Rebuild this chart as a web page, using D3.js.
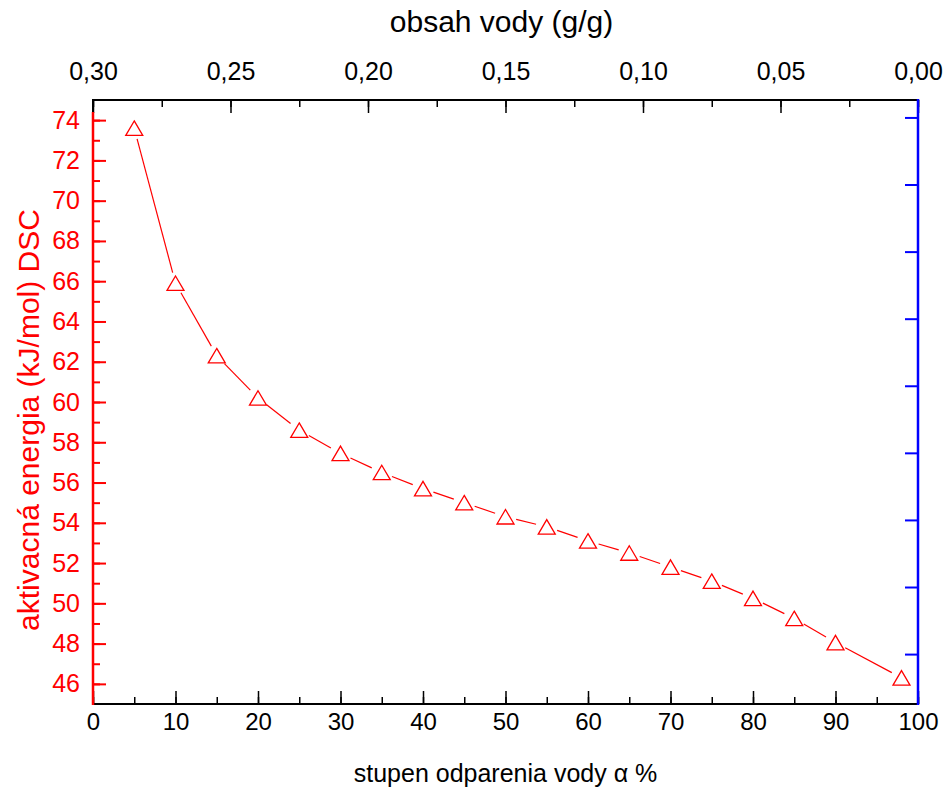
<!DOCTYPE html>
<html>
<head>
<meta charset="utf-8">
<script src="https://cdn.jsdelivr.net/npm/d3@7"></script>
<style>
  body { margin: 0; background: #fff; }
  svg { display: block; font-family: "Liberation Sans", Arial, sans-serif; }
</style>
</head>
<body>
<svg id="chart" width="946" height="798"></svg>
<script>
// data
const alpha = [5, 10, 15, 20, 25, 30, 35, 40, 45, 50, 55, 60, 65, 70, 75, 80, 85, 90, 98];
const energy = [73.6, 65.9, 62.3, 60.2, 58.6, 57.45, 56.5, 55.7, 55.0, 54.3, 53.8, 53.1, 52.5, 51.8, 51.1, 50.25, 49.25, 48.05, 46.3];
const topTicks = [0.30, 0.25, 0.20, 0.15, 0.10, 0.05, 0.00];
const rightTicks = [1, 2, 3, 4, 5, 6, 7, 8, 9];

const L = 93, R = 918, T = 100, B = 704;
const svg = d3.select('#chart');

const x = d3.scaleLinear().domain([0, 100]).range([L, R]);
const xTop = d3.scaleLinear().domain([0.30, 0.00]).range([L, R]);
const y = d3.scaleLinear().domain([45, 75]).range([B, T]);
const yRight = d3.scaleLinear().domain([0.256, 9.26]).range([B, T]);

const fmtComma = d => d3.format('.2f')(d).replace('.', ',');

// ramik (cierny)
svg.append('rect')
  .attr('x', L).attr('y', T).attr('width', R - L).attr('height', B - T)
  .attr('fill', 'none').attr('stroke', '#000').attr('stroke-width', 2);

// spodna os
const gBot = svg.append('g').attr('transform', `translate(0,${B})`);
gBot.call(d3.axisBottom(x).tickValues(d3.range(0, 101, 5)).tickSize(-7).tickFormat(''));
gBot.call(g => g.select('.domain').remove());
gBot.append('g').call(d3.axisBottom(x).tickValues(d3.range(0, 101, 10)).tickSize(-13).tickPadding(9))
  .call(g => g.select('.domain').remove());
gBot.selectAll('line').attr('stroke', '#000').attr('stroke-width', 1.5);
gBot.selectAll('text').attr('font-size', 24).attr('fill', '#000');

// horna os
const gTop = svg.append('g').attr('transform', `translate(0,${T})`);
gTop.call(d3.axisTop(xTop).tickValues(d3.range(0, 13).map(i => 0.30 - i * 0.025)).tickSize(-7).tickFormat(''));
gTop.call(g => g.select('.domain').remove());
gTop.append('g').call(d3.axisTop(xTop).tickValues(topTicks).tickSize(-13).tickPadding(20).tickFormat(fmtComma))
  .call(g => g.select('.domain').remove());
gTop.selectAll('line').attr('stroke', '#000').attr('stroke-width', 1.5);
gTop.selectAll('text').attr('font-size', 25).attr('fill', '#000');

// lava os (cervena)
const gLeft = svg.append('g').attr('transform', `translate(${L},0)`);
gLeft.call(d3.axisLeft(y).tickValues(d3.range(46, 75, 1)).tickSize(-7).tickFormat(''));
gLeft.call(g => g.select('.domain').remove());
gLeft.append('g').call(d3.axisLeft(y).tickValues(d3.range(46, 75, 2)).tickSize(-13).tickPadding(13))
  .call(g => g.select('.domain').remove());
gLeft.selectAll('line').attr('stroke', '#f00').attr('stroke-width', 2);
gLeft.selectAll('text').attr('font-size', 25).attr('fill', '#f00');
gLeft.append('line').attr('x1', 0).attr('x2', 0).attr('y1', 112).attr('y2', B + 1)
  .attr('stroke', '#f00').attr('stroke-width', 2.5);

// prava os (modra)
const gRight = svg.append('g').attr('transform', `translate(${R},0)`);
gRight.call(d3.axisRight(yRight).tickValues(rightTicks).tickSize(-13).tickFormat(''));
gRight.call(g => g.select('.domain').remove());
gRight.selectAll('line').attr('stroke', '#00f').attr('stroke-width', 2);
gRight.append('line').attr('x1', 0).attr('x2', 0).attr('y1', T - 1).attr('y2', B + 1)
  .attr('stroke', '#00f').attr('stroke-width', 2.5);

// spojnica s medzerami pri symboloch
const pts = alpha.map((a, i) => [x(a), y(energy[i])]);
const gap = 11;
const gLine = svg.append('g');
for (let i = 0; i < pts.length - 1; i++) {
  const [x0, y0] = pts[i], [x1, y1] = pts[i + 1];
  const len = Math.hypot(x1 - x0, y1 - y0);
  const ux = (x1 - x0) / len, uy = (y1 - y0) / len;
  gLine.append('line')
    .attr('x1', x0 + ux * gap).attr('y1', y0 + uy * gap)
    .attr('x2', x1 - ux * gap).attr('y2', y1 - uy * gap)
    .attr('stroke', '#f00').attr('stroke-width', 1.2);
}

// trojuholniky
const tw = 17, th = 14.5;
svg.append('g').selectAll('path')
  .data(pts)
  .enter().append('path')
  .attr('d', d => `M${d[0]},${d[1] - th / 2}L${d[0] + tw / 2},${d[1] + th / 2}L${d[0] - tw / 2},${d[1] + th / 2}Z`)
  .attr('fill', '#fff').attr('stroke', '#f00').attr('stroke-width', 1.3);

// popisy osi
svg.append('text')
  .attr('x', (L + R) / 2 - 4).attr('y', 32)
  .attr('text-anchor', 'middle').attr('font-size', 30)
  .text('obsah vody (g/g)');

svg.append('text')
  .attr('x', (L + R) / 2).attr('y', 782)
  .attr('text-anchor', 'middle').attr('font-size', 25)
  .text('stupen odparenia vody α %');

svg.append('text')
  .attr('transform', `translate(39,420) rotate(-90)`)
  .attr('text-anchor', 'middle').attr('font-size', 30).attr('fill', '#f00')
  .text('aktivacná energia (kJ/mol) DSC');
</script>
</body>
</html>
